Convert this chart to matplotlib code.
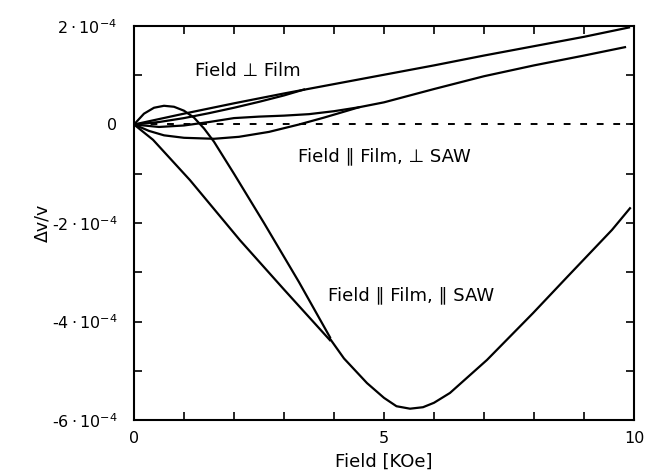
import matplotlib.pyplot as plt
from matplotlib.ticker import MultipleLocator

plt.rcParams['font.family'] = ['DejaVu Sans']
plt.rcParams['mathtext.default'] = 'regular'

# values in units of 1e-4 (dv/v), field in kOe
# Field perpendicular to film (two sweeps)
perp_x1 = [0, 1, 2, 3, 4, 5, 6, 7, 8, 9, 9.9]
perp_y1 = [0, 0.22, 0.43, 0.63, 0.82, 1.01, 1.2, 1.4, 1.59, 1.78, 1.97]
perp_x2 = [0, 0.5, 1, 1.5, 2, 2.5, 3, 3.4]
perp_y2 = [0, 0.05, 0.13, 0.23, 0.34, 0.46, 0.59, 0.71]

# Field parallel film, perpendicular SAW (two sweeps)
par_perp_x1 = [0, 0.5, 1, 1.5, 2, 2.5, 3, 3.5, 4, 4.5, 5, 6, 7, 8, 9, 9.82]
par_perp_y1 = [0, -0.05, -0.02, 0.05, 0.13, 0.16, 0.18, 0.21, 0.27, 0.35, 0.45, 0.72, 0.98, 1.2, 1.4, 1.57]
par_perp_x2 = [0, 0.3, 0.6, 1.0, 1.6, 2.1, 2.7, 3.3, 3.8, 4.5]
par_perp_y2 = [0, -0.13, -0.22, -0.27, -0.29, -0.25, -0.15, 0.0, 0.14, 0.35]

# Field parallel film, parallel SAW (two sweeps, merging near 4 kOe)
par_par_x1 = [0, 0.2, 0.4, 0.6, 0.8, 1.0, 1.2, 1.4, 1.6, 2.0, 2.6, 3.3, 3.92]
par_par_y1 = [0, 0.22, 0.34, 0.38, 0.36, 0.28, 0.14, -0.08, -0.35, -1.0, -2.0, -3.2, -4.32]
par_par_x2 = [0, 0.38, 1.12, 2.12, 3.0, 3.92]
par_par_y2 = [0, -0.31, -1.13, -2.35, -3.35, -4.38]
par_par_x3 = [3.92, 4.2, 4.66, 5.0, 5.25, 5.52, 5.78, 6.0, 6.32, 7.06, 7.98, 8.66, 9.56, 9.92]
par_par_y3 = [-4.35, -4.75, -5.25, -5.55, -5.72, -5.77, -5.74, -5.65, -5.45, -4.78, -3.83, -3.10, -2.14, -1.70]

yticks = [2, 0, -2, -4, -6]
ylabels = [r'$2\cdot10^{-4}$', '0', r'-$2\cdot10^{-4}$', r'-$4\cdot10^{-4}$', r'-$6\cdot10^{-4}$']
xticks = [0, 5, 10]

fig = plt.figure(figsize=(6.47, 4.76), dpi=100)
ax = fig.add_axes([0.2071, 0.1176, 0.7728, 0.8278])

lw = 1.6
for xs, ys in [(perp_x1, perp_y1), (perp_x2, perp_y2),
               (par_perp_x1, par_perp_y1), (par_perp_x2, par_perp_y2),
               (par_par_x1, par_par_y1), (par_par_x2, par_par_y2),
               (par_par_x3, par_par_y3)]:
    ax.plot(xs, ys, color='black', lw=lw)

ax.plot([0, 10], [0, 0], color='black', lw=1.4, dashes=(3.5, 5))

ax.set_xlim(0, 10)
ax.set_ylim(-6, 2)
ax.set_xticks(xticks)
ax.set_yticks(yticks)
ax.set_yticklabels(ylabels)
ax.xaxis.set_minor_locator(MultipleLocator(1))
ax.yaxis.set_minor_locator(MultipleLocator(1))
ax.tick_params(which='both', direction='in', top=True, right=True, length=6, width=1.2, labelsize=11.5)
ax.tick_params(axis='y', pad=12)
ax.tick_params(axis='x', pad=8)
for s in ax.spines.values():
    s.set_linewidth(1.5)

ax.set_xlabel('Field [KOe]', fontsize=13, labelpad=5)
ax.set_ylabel('Δv/v', fontsize=12.5, labelpad=0)

ax.text(1.22, 1.09, 'Field ⊥ Film', fontsize=13, va='center')
ax.text(3.28, -0.64, 'Field ∥ Film, ⊥ SAW', fontsize=13, va='center')
ax.text(3.88, -3.46, 'Field ∥ Film, ∥ SAW', fontsize=13, va='center')

fig.savefig('out.png', dpi=100)
